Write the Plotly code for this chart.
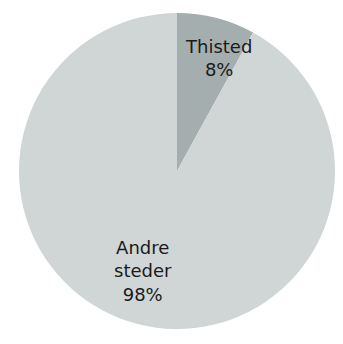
import plotly.graph_objects as go

labels = ["Thisted", "Andre steder"]
values = [8, 92]
label_lines = ["Thisted", "Andre<br>steder"]
pct_text = ["8%", "98%"]
colors = ["#a5aeae", "#d0d5d6"]

# label anchor points (paper fractions) - roughly where the reference puts them
label_x = [0.630, 0.391]
label_y = [0.857, 0.185]

fig = go.Figure(go.Pie(
    labels=labels,
    values=values,
    textinfo="none",
    sort=False,
    direction="clockwise",
    rotation=0,
    marker=dict(colors=colors, line=dict(width=0)),
    hoverinfo="label+percent",
    showlegend=False,
))

for name, pct, x, y in zip(label_lines, pct_text, label_x, label_y):
    fig.add_annotation(
        text=f"{name}<br>{pct}",
        x=x, y=y, xref="paper", yref="paper",
        xanchor="center", yanchor="middle",
        showarrow=False, align="center",
        font=dict(family="DejaVu Sans", size=18, color="#1a1a1a"),
    )

fig.update_layout(
    width=327, height=336,
    margin=dict(l=11, r=0, t=5, b=15, pad=0),
    paper_bgcolor="white",
)

fig.write_html("out.html", config={"displayModeBar": False})
